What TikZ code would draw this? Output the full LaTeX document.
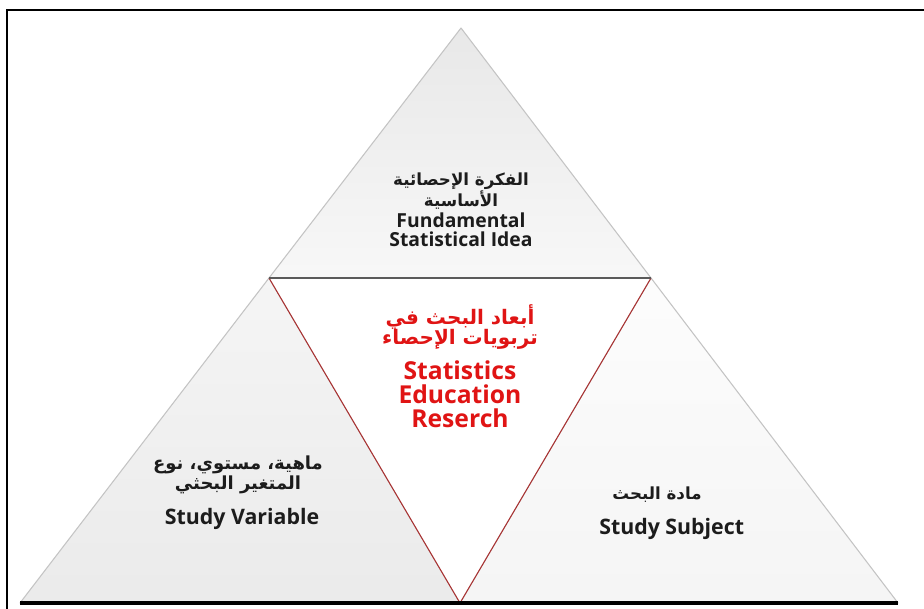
\documentclass[tikz,border=0pt]{standalone}
\usepackage{fontspec}
\setmainfont{Open Sans}
\newfontfamily\arabicfont[Script=Arabic]{DejaVu Sans}
\TeXXeTstate=1
\usetikzlibrary{positioning}
\definecolor{edgegray}{HTML}{C4C4C4}
\definecolor{midgray}{HTML}{5A5A5A}
\definecolor{redline}{HTML}{A83232}
\definecolor{redtext}{HTML}{E01414}
\definecolor{inktext}{HTML}{1C1C1C}
\tikzstyle{part} = [draw=edgegray,line width=0.8pt,line join=round]
\tikzstyle{artxt} = [inner sep=0pt,align=center,text=inktext,font=\arabicfont\bfseries\fontsize{12.5}{13.5}\selectfont]
\tikzstyle{entxt} = [inner sep=0pt,align=center,text=inktext,font=\bfseries\fontsize{14.5}{14.5}\selectfont]

\begin{document}
\begin{tikzpicture}[x=0.75pt,y=-0.75pt]
		\useasboundingbox (0,0) rectangle (924,609);
		% corners of the pyramid
		\coordinate (top) at (461,28);
		\coordinate (bl) at (20,603);
		\coordinate (br) at (898,603);
		\coordinate (ml) at (269,278);
		\coordinate (mr) at (651,278);
		\coordinate (mb) at (460,603);
		\coordinate (fb) at (7,609);
		\coordinate (fl) at (7,10);
		\coordinate (fr) at (924,10);
		
		\shade[part,top color=black!9,bottom color=black!3](top)--(ml)--(mr)--cycle;
		\shade[part,top color=black!4,bottom color=black!8](ml)--(bl)--(mb)--cycle;
		\shade[part,top color=black!1,bottom color=black!4](mr)--(mb)--(br)--cycle;
		\fill[white](ml)--(mr)--(mb)--cycle;
		\draw[redline,line width=0.8pt](ml)--(mb)--(mr);
		\draw[midgray,line width=1.2pt](ml)--(mr);
		\draw[black,line width=2.4pt](bl)--(br);
		\draw[black,line width=2pt](fb)--(fl)--(fr);
		
		\node [artxt](idea) at (461,191){\beginR الفكرة الإحصائية\endR\\\beginR الأساسية\endR};
		\node [entxt,below=2pt of idea](ideaen){Fundamental\\Statistical Idea};
		\node [artxt,text=redtext,font=\arabicfont\bfseries\fontsize{15}{15.5}\selectfont](ser) at (460,327){\beginR أبعاد البحث في\endR\\\beginR تربويات الإحصاء\endR};
		\node [entxt,text=redtext,font=\bfseries\fontsize{18.5}{18}\selectfont,below=8pt of ser](seren){Statistics\\Education\\Reserch};
		\node [artxt,font=\arabicfont\bfseries\fontsize{13.5}{15}\selectfont](var) at (238,475){\beginR ماهية، مستوي، نوع\endR\\\beginR المتغير البحثي\endR};
		\node [entxt,font=\bfseries\fontsize{16}{16}\selectfont,below=10pt of var,xshift=3pt](varen){Study Variable};
		\node [artxt](subj) at (657,495){\beginR مادة البحث\endR};
		\node [entxt,font=\bfseries\fontsize{16}{16}\selectfont,below=11pt of subj,xshift=11pt](subjen){Study Subject};
\end{tikzpicture}
\end{document}
